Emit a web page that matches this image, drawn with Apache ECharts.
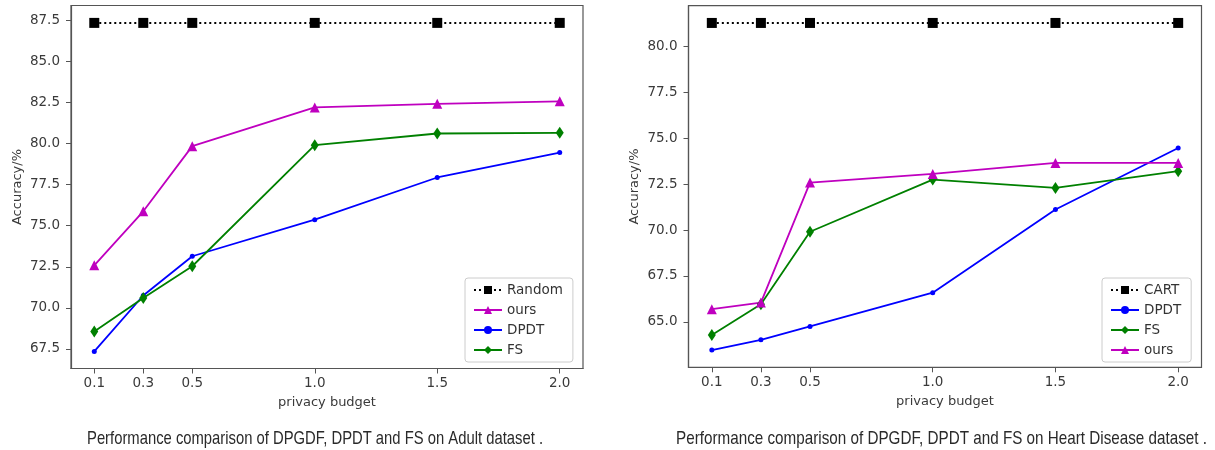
<!DOCTYPE html>
<html>
<head>
<meta charset="utf-8">
<script src="https://cdn.jsdelivr.net/npm/echarts@6/dist/echarts.min.js"></script>
<style>
html,body{margin:0;padding:0;background:#fff;}
#chart{width:1215px;height:450px;}
</style>
</head>
<body>
<div id="chart"></div>
<script>
// ---- data ----
const budgets = [0.1, 0.3, 0.5, 1.0, 1.5, 2.0];
const xTicks = [0.1, 0.3, 0.5, 1.0, 1.5, 2.0];

// Adult dataset (left)
const adultRandom = [87.36, 87.36, 87.36, 87.36, 87.36, 87.36];
const adultOurs   = [72.59, 75.88, 79.85, 82.21, 82.43, 82.58];
const adultDPDT   = [67.34, 70.75, 73.14, 75.37, 77.94, 79.46];
const adultFS     = [68.56, 70.59, 72.53, 79.91, 80.62, 80.66];
const adultYTicks = [67.5, 70.0, 72.5, 75.0, 77.5, 80.0, 82.5, 85.0, 87.5];

// Heart disease dataset (right)
const heartCART = [81.29, 81.29, 81.29, 81.29, 81.29, 81.29];
const heartDPDT = [63.46, 64.02, 64.75, 66.59, 71.12, 74.47];
const heartFS   = [64.28, 65.96, 69.91, 72.75, 72.30, 73.21];
const heartOurs = [65.69, 66.05, 72.59, 73.06, 73.66, 73.66];
const heartYTicks = [65.0, 67.5, 70.0, 72.5, 75.0, 77.5, 80.0];

const captions = [
  'Performance comparison of DPGDF, DPDT and FS on Adult dataset .',
  'Performance comparison of DPGDF, DPDT and FS on Heart Disease dataset .'
];

// ---- helpers ----
const pairs = (ys) => budgets.map((x, i) => [x, ys[i]]);
const FONT = 'DejaVu Sans';
const AXC = '#555';
const TXT = '#3a3a3a';

function xAxis(gi) {
  return {
    type: 'value', gridIndex: gi, min: 0.005, max: 2.095,
    name: 'privacy budget', nameLocation: 'middle', nameGap: 28,
    nameTextStyle: { fontFamily: FONT, fontSize: 13, color: TXT },
    axisLine: { show: true, lineStyle: { color: AXC, width: 1.2 } },
    axisTick: { show: true, length: 5, customValues: xTicks, lineStyle: { color: AXC } },
    axisLabel: { customValues: xTicks, formatter: v => v.toFixed(1), fontFamily: FONT, fontSize: 13.5, color: TXT, margin: 8 },
    splitLine: { show: false }
  };
}
function yAxis(gi, min, max, ticks) {
  return {
    type: 'value', gridIndex: gi, min: min, max: max,
    name: 'Accuracy/%', nameLocation: 'middle', nameGap: 47, nameRotate: 90,
    nameTextStyle: { fontFamily: FONT, fontSize: 13, color: TXT },
    axisLine: { show: true, lineStyle: { color: AXC, width: 1.2 } },
    axisTick: { show: true, length: 5, customValues: ticks, lineStyle: { color: AXC } },
    axisLabel: { customValues: ticks, formatter: v => v.toFixed(1), fontFamily: FONT, fontSize: 13.5, color: TXT, margin: 11 },
    splitLine: { show: false }
  };
}
function refSeries(name, gi, ys) {
  return {
    name: name, type: 'line', xAxisIndex: gi, yAxisIndex: gi, data: pairs(ys),
    symbol: 'rect', symbolSize: 10, color: '#000',
    lineStyle: { color: '#000', width: 2, type: [2, 3] },
    itemStyle: { color: '#000' }, z: 2
  };
}
function oursSeries(gi, ys) {
  return {
    name: 'ours', type: 'line', xAxisIndex: gi, yAxisIndex: gi, data: pairs(ys),
    symbol: 'triangle', symbolSize: 10, color: '#bf00bf',
    lineStyle: { color: '#bf00bf', width: 1.8 }, itemStyle: { color: '#bf00bf' }
  };
}
function dpdtSeries(gi, ys) {
  return {
    name: 'DPDT', type: 'line', xAxisIndex: gi, yAxisIndex: gi, data: pairs(ys),
    symbol: 'circle', symbolSize: 5, color: '#0000ff',
    lineStyle: { color: '#0000ff', width: 1.8 }, itemStyle: { color: '#0000ff' }
  };
}
function fsSeries(gi, ys) {
  return {
    name: 'FS', type: 'line', xAxisIndex: gi, yAxisIndex: gi, data: pairs(ys),
    symbol: 'diamond', symbolSize: [8, 12], color: '#008000',
    lineStyle: { color: '#008000', width: 1.8 }, itemStyle: { color: '#008000' }
  };
}
function legend(left, names) {
  return {
    orient: 'vertical', left: left, top: 278, data: names,
    itemWidth: 28, itemHeight: 10, itemGap: 6,
    padding: [5, 10, 5, 8],
    borderColor: '#ccc', borderWidth: 1, borderRadius: 3, backgroundColor: '#fff',
    textStyle: { fontFamily: FONT, fontSize: 13.5, color: '#333' },
    selectedMode: false
  };
}

// caption text scaled to the narrow width of the reference caption font
const capFont = '19px "Liberation Sans"';
const mctx = document.createElement('canvas').getContext('2d');
mctx.font = capFont;
function caption(text, cx, targetW) {
  const w = mctx.measureText(text).width;
  return {
    type: 'text', x: cx, y: 438.5, scaleX: targetW / w,
    style: { text: text, font: capFont, fill: '#2a2a2a', textAlign: 'center', textVerticalAlign: 'middle' }
  };
}

const chart = echarts.init(document.getElementById('chart'), null, { renderer: 'canvas' });
chart.setOption({
  backgroundColor: '#fff',
  animation: false,
  grid: [
    { left: 71, top: 5.5, width: 512, height: 363, show: true, borderColor: AXC, borderWidth: 1.2 },
    { left: 688.5, top: 5.7, width: 513, height: 361.6, show: true, borderColor: AXC, borderWidth: 1.2 }
  ],
  xAxis: [xAxis(0), xAxis(1)],
  yAxis: [yAxis(0, 66.3, 88.42, adultYTicks), yAxis(1, 62.52, 82.23, heartYTicks)],
  legend: [legend(465, ['Random', 'ours', 'DPDT', 'FS']), legend(1102, ['CART', 'DPDT', 'FS', 'ours'])],
  graphic: [
    caption(captions[0], 315, 456),
    caption(captions[1], 941.5, 531)
  ],
  series: [
    refSeries('Random', 0, adultRandom),
    oursSeries(0, adultOurs),
    dpdtSeries(0, adultDPDT),
    fsSeries(0, adultFS),
    refSeries('CART', 1, heartCART),
    dpdtSeries(1, heartDPDT),
    fsSeries(1, heartFS),
    oursSeries(1, heartOurs)
  ]
});
</script>
</body>
</html>
